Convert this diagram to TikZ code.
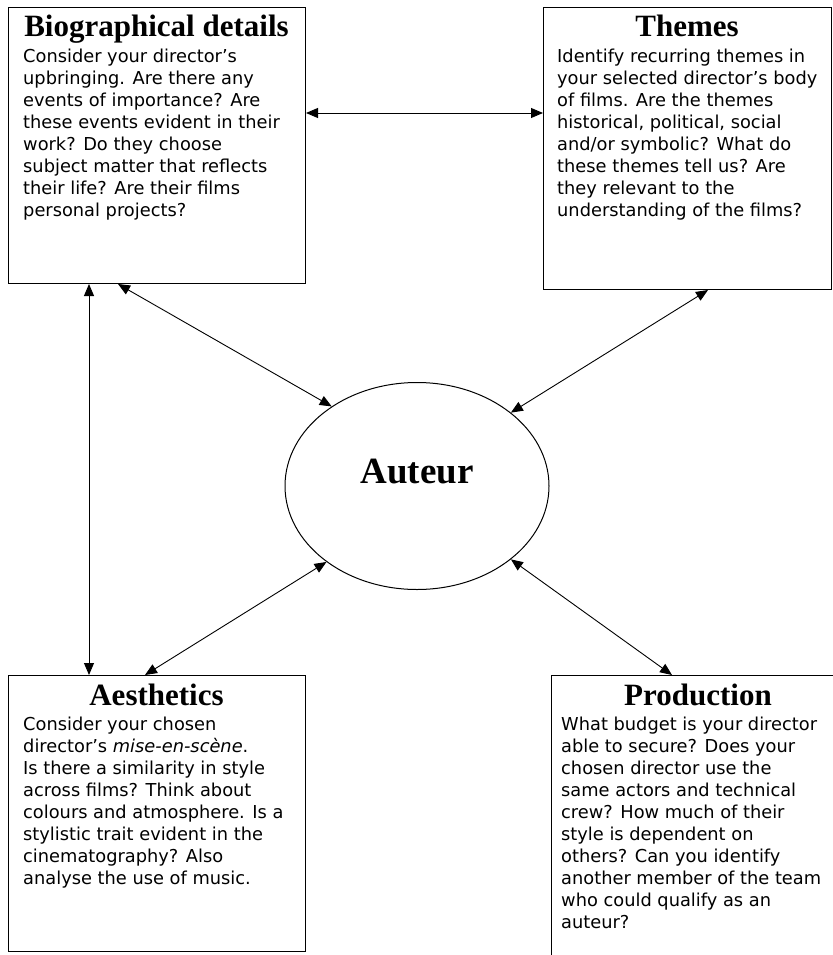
\documentclass[tikz,border=0pt]{standalone}
\usepackage{fontspec}
\setmainfont{DejaVu Sans}
\newfontfamily\titlefont{Liberation Serif}
\usetikzlibrary{arrows.meta,shapes.geometric}
\begin{document}
\begin{tikzpicture}[x=1pt,y=-1pt,
  box/.style={draw,line width=1pt,rectangle,anchor=north west,inner sep=0pt},
  ttl/.style={anchor=base,inner sep=0pt,font=\titlefont\bfseries\fontsize{31}{31}\selectfont},
  body/.style={anchor=north west,inner sep=0pt,align=left,font=\fontsize{17.8}{22}\selectfont},
  conn/.style={line width=0.9pt,{Triangle[length=12pt,width=10pt]}-{Triangle[length=12pt,width=10pt]}}]
\useasboundingbox (0,0) rectangle (832,955);
% boxes
\node[box,minimum width=297pt,minimum height=276pt] (bio) at (8,7) {};
\node[box,minimum width=288pt,minimum height=282pt] (them) at (543,7) {};
\node[box,minimum width=297pt,minimum height=276pt] (aes) at (8,675) {};
\node[box,minimum width=294pt,minimum height=320pt] (prod) at (551,675) {};
\node[draw,line width=1pt,ellipse,minimum width=264pt,minimum height=207pt,inner sep=0pt] (aut) at (417,486) {};
% titles
\node[ttl] (biot) at (156.5,37) {Biographical details};
\node[ttl] (themt) at (687,37) {Themes};
\node[ttl] (aest) at (156.5,705) {Aesthetics};
\node[ttl] (prodt) at (698,705) {Production};
\node[anchor=base,inner sep=0pt,font=\titlefont\bfseries\fontsize{37}{37}\selectfont] (autt) at (417,483) {Auteur};
% bodies
\node[body] (biob) at (23,47) {\strut Consider your director’s\\upbringing. Are there any\\events of importance? Are\\these events evident in their\\work? Do they choose\\subject matter that reflects\\their life? Are their films\\personal projects?};
\node[body] (themb) at (557,47) {\strut Identify recurring themes in\\your selected director’s body\\of films. Are the themes\\historical, political, social\\and/or symbolic? What do\\these themes tell us? Are\\they relevant to the\\understanding of the films?};
\node[body] (aesb) at (23,715) {\strut Consider your chosen\\director’s \textit{mise-en-scène}.\\Is there a similarity in style\\across films? Think about\\colours and atmosphere. Is a\\stylistic trait evident in the\\cinematography? Also\\analyse the use of music.};
\node[body] (prodb) at (561,715) {\strut What budget is your director\\able to secure? Does your\\chosen director use the\\same actors and technical\\crew? How much of their\\style is dependent on\\others? Can you identify\\another member of the team\\who could qualify as an\\auteur?};
% connectors
\draw[conn] ([yshift=-106pt]bio.north east) -- ([yshift=-106pt]them.north west);
\draw[conn] ([xshift=81pt]bio.south west) -- ([xshift=81pt]aes.north west);
\draw[conn] ([xshift=110pt]bio.south west) -- (aut.137);
\draw[conn] ([xshift=165pt]them.south west) -- (aut.38);
\draw[conn] ([xshift=137pt]aes.north west) -- (aut.220);
\draw[conn] ([xshift=121pt]prod.north west) -- (aut.322);
\end{tikzpicture}
\end{document}
